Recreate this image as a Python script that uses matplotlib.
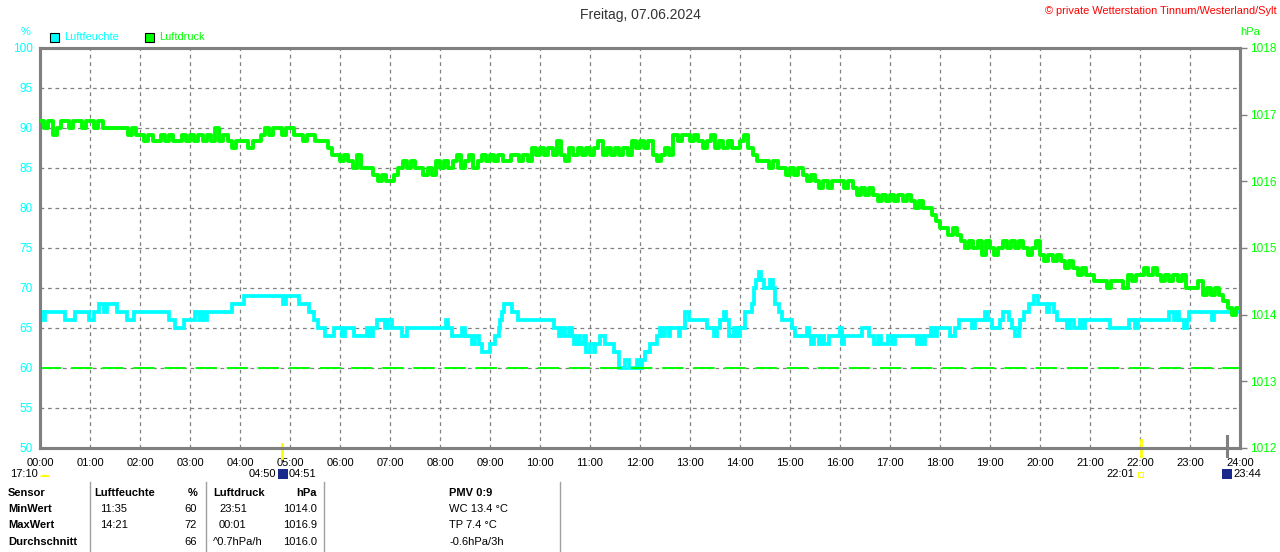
import matplotlib.pyplot as plt
import matplotlib.patches as mpatches
import matplotlib.transforms as mtransforms
import numpy as np

# Luftfeuchte (%), step changes: time in hours, new value
hum_t = [0.0, 0.06, 0.09, 0.5, 0.7, 0.97, 1.07, 1.17, 1.28, 1.33, 1.53, 1.73, 1.87,
         2.57, 2.7, 2.87, 3.1, 3.17, 3.23, 3.27, 3.33, 3.83, 4.07, 4.85, 4.91, 5.17,
         5.37, 5.47, 5.55, 5.7, 5.87, 6.03, 6.1, 6.27, 6.53, 6.6, 6.65, 6.73, 6.9,
         6.95, 7.03, 7.23, 7.33, 8.11, 8.16, 8.23, 8.45, 8.5, 8.63, 8.7, 8.77, 8.83,
         9.0, 9.1, 9.17, 9.2, 9.23, 9.27, 9.43, 9.55, 10.27, 10.37, 10.43, 10.5,
         10.57, 10.63, 10.67, 10.73, 10.8, 10.87, 10.91, 11.0, 11.07, 11.1, 11.19,
         11.3, 11.47, 11.58, 11.7, 11.77, 11.93, 12.0, 12.03, 12.1, 12.2, 12.33,
         12.4, 12.43, 12.5, 12.57, 12.6, 12.77, 12.8, 12.9, 12.97, 13.33, 13.47,
         13.53, 13.6, 13.67, 13.71, 13.77, 13.87, 13.93, 14.0, 14.1, 14.23, 14.27,
         14.32, 14.37, 14.41, 14.47, 14.6, 14.65, 14.69, 14.77, 14.83, 15.03, 15.1,
         15.33, 15.38, 15.41, 15.48, 15.57, 15.63, 15.68, 15.77, 16.0, 16.04, 16.07,
         16.43, 16.57, 16.67, 16.75, 16.83, 16.95, 17.03, 17.1, 17.53, 17.6, 17.65,
         17.7, 17.83, 17.87, 17.93, 18.2, 18.3, 18.37, 18.65, 18.7, 18.9, 18.95,
         19.03, 19.2, 19.25, 19.37, 19.43, 19.5, 19.57, 19.6, 19.67, 19.77, 19.88,
         19.95, 20.13, 20.18, 20.27, 20.33, 20.53, 20.6, 20.67, 20.8, 20.85, 20.9,
         21.4, 21.77, 21.9, 21.95, 22.57, 22.67, 22.73, 22.77, 22.87, 22.93, 22.97,
         23.43, 23.47, 23.97]
hum_v = [67, 66, 67, 66, 67, 66, 67, 68, 67, 68, 67, 66, 67,
         66, 65, 66, 67, 66, 67, 66, 67, 68, 69, 68, 69, 68,
         67, 66, 65, 64, 65, 64, 65, 64, 65, 64, 65, 66, 65,
         66, 65, 64, 65, 66, 65, 64, 65, 64, 63, 64, 63, 62,
         63, 64, 65, 66, 67, 68, 67, 66, 65, 64, 65, 64,
         65, 64, 63, 64, 63, 64, 62, 63, 62, 63, 64,
         63, 62, 60, 61, 60, 61, 60, 61, 62, 63, 64,
         65, 64, 65, 64, 65, 64, 65, 67, 66, 65, 64,
         65, 66, 67, 66, 64, 65, 64, 65, 67, 68, 70,
         71, 72, 71, 70, 71, 70, 68, 67, 66, 65, 64,
         65, 64, 63, 64, 63, 64, 63, 64, 65, 63, 64,
         65, 64, 63, 64, 63, 64, 63, 64, 63, 64, 63,
         64, 65, 64, 65, 64, 65, 66, 65, 66, 67, 66,
         65, 66, 67, 66, 65, 64, 65, 66, 67, 68, 69,
         68, 67, 68, 67, 66, 65, 66, 65, 66, 65, 66,
         65, 66, 65, 66, 67, 66, 67, 66, 65, 66, 67,
         66, 67, 67]

# Luftdruck (hPa), 5-minute values from 00:00, one row per hour
pres_v = [
    1016.9, 1016.8, 1016.9, 1016.7, 1016.8, 1016.9, 1016.9, 1016.8, 1016.9, 1016.9, 1016.8, 1016.9,
    1016.9, 1016.8, 1016.9, 1016.8, 1016.8, 1016.8, 1016.8, 1016.8, 1016.8, 1016.7, 1016.8, 1016.7,
    1016.7, 1016.6, 1016.7, 1016.6, 1016.6, 1016.7, 1016.6, 1016.7, 1016.6, 1016.6, 1016.7, 1016.6,
    1016.7, 1016.6, 1016.7, 1016.6, 1016.7, 1016.6, 1016.8, 1016.6, 1016.7, 1016.6, 1016.5, 1016.6,
    1016.6, 1016.6, 1016.5, 1016.6, 1016.6, 1016.7, 1016.8, 1016.7, 1016.8, 1016.8, 1016.7, 1016.8,
    1016.8, 1016.7, 1016.7, 1016.6, 1016.7, 1016.7, 1016.6, 1016.6, 1016.6, 1016.5, 1016.4, 1016.4,
    1016.3, 1016.4, 1016.3, 1016.2, 1016.4, 1016.2, 1016.2, 1016.2, 1016.1, 1016.0, 1016.1, 1016.0,
    1016.0, 1016.1, 1016.2, 1016.3, 1016.2, 1016.3, 1016.2, 1016.2, 1016.1, 1016.2, 1016.1, 1016.3,
    1016.2, 1016.3, 1016.2, 1016.3, 1016.4, 1016.2, 1016.3, 1016.4, 1016.2, 1016.3, 1016.4, 1016.3,
    1016.4, 1016.3, 1016.4, 1016.3, 1016.3, 1016.4, 1016.4, 1016.3, 1016.4, 1016.3, 1016.5, 1016.4,
    1016.5, 1016.4, 1016.5, 1016.4, 1016.6, 1016.4, 1016.3, 1016.5, 1016.4, 1016.5, 1016.4, 1016.5,
    1016.4, 1016.5, 1016.6, 1016.4, 1016.5, 1016.4, 1016.5, 1016.4, 1016.5, 1016.4, 1016.6, 1016.5,
    1016.6, 1016.5, 1016.6, 1016.4, 1016.3, 1016.4, 1016.5, 1016.4, 1016.7, 1016.6, 1016.7, 1016.7,
    1016.6, 1016.7, 1016.6, 1016.5, 1016.6, 1016.7, 1016.5, 1016.6, 1016.5, 1016.6, 1016.5, 1016.5,
    1016.6, 1016.7, 1016.5, 1016.4, 1016.3, 1016.3, 1016.3, 1016.2, 1016.3, 1016.2, 1016.2, 1016.1,
    1016.2, 1016.1, 1016.2, 1016.1, 1016.0, 1016.1, 1016.0, 1015.9, 1016.0, 1015.9, 1016.0, 1016.0,
    1016.0, 1015.9, 1016.0, 1015.9, 1015.8, 1015.9, 1015.8, 1015.9, 1015.8, 1015.7, 1015.8, 1015.7,
    1015.8, 1015.7, 1015.8, 1015.7, 1015.8, 1015.7, 1015.6, 1015.7, 1015.6, 1015.6, 1015.5, 1015.4,
    1015.3, 1015.3, 1015.2, 1015.3, 1015.2, 1015.1, 1015.0, 1015.1, 1015.0, 1015.1, 1014.9, 1015.1,
    1015.0, 1014.9, 1015.0, 1015.1, 1015.0, 1015.1, 1015.0, 1015.1, 1015.0, 1014.9, 1015.0, 1015.1,
    1014.9, 1014.8, 1014.9, 1014.8, 1014.9, 1014.8, 1014.7, 1014.8, 1014.7, 1014.6, 1014.7, 1014.6,
    1014.6, 1014.5, 1014.5, 1014.5, 1014.4, 1014.5, 1014.5, 1014.5, 1014.4, 1014.6, 1014.5, 1014.6,
    1014.6, 1014.7, 1014.6, 1014.7, 1014.6, 1014.5, 1014.6, 1014.5, 1014.6, 1014.5, 1014.6, 1014.4,
    1014.4, 1014.4, 1014.5, 1014.3, 1014.4, 1014.3, 1014.4, 1014.3, 1014.2, 1014.1, 1014.0, 1014.1,
]
pres_end = 23.97
ref_pressure = 1013.2

hours = list(range(25))
hour_labels = ['%02d:00' % h for h in hours]
hum_ticks = list(range(50, 101, 5))
pres_ticks = list(range(1012, 1019))

sunrise, sunset, moon_t = 4 + 50 / 60, 22 + 1 / 60, 23 + 44 / 60

table_rows = [
    ['Sensor', 'Luftfeuchte', '%', 'Luftdruck', 'hPa', 'PMV 0:9'],
    ['MinWert', '11:35', '60', '23:51', '1014.0', 'WC 13.4 °C'],
    ['MaxWert', '14:21', '72', '00:01', '1016.9', 'TP 7.4 °C'],
    ['Durchschnitt', '', '66', '^0.7hPa/h', '1016.0', '-0.6hPa/3h'],
]

CYAN = '#00ffff'
GREEN = '#00ff00'
GRAY = '#808080'
W, H = 1280, 552
plt.rcParams['font.family'] = ['Liberation Sans', 'DejaVu Sans']


def fx(px):
    return px / W


def fy(py):
    return 1 - py / H


fig = plt.figure(figsize=(W / 100, H / 100), dpi=100, facecolor='white')
ax = fig.add_axes([fx(40), fy(448), 1200 / W, 400 / H])
ax2 = ax.twinx()

# humidity
ax.step(np.append(hum_t, hum_t[-1]), np.append(hum_v, hum_v[-1]), where='post',
        color=CYAN, lw=2.7, solid_joinstyle='miter', zorder=3)
ax.set_xlim(0, 24)
ax.set_ylim(50, 100)
ax.set_xticks(hours)
ax.set_xticklabels(hour_labels, fontsize=8)
ax.set_yticks(hum_ticks)
ax.set_yticklabels([str(v) for v in hum_ticks], fontsize=8.5, color=CYAN)
ax.tick_params(axis='both', length=0)
ax.tick_params(axis='x', pad=7)
ax.tick_params(axis='y', pad=5)
ax.grid(True, color=GRAY, linestyle=(0, (3, 3)), linewidth=0.9)
ax.set_axisbelow(True)

# pressure
pres_t = np.arange(len(pres_v)) / 12
ax2.step(np.append(pres_t, pres_end), np.append(pres_v, pres_v[-1]), where='post',
         color=GREEN, lw=2.8, zorder=3)
ax2.axhline(ref_pressure, color=GREEN, lw=1.4, linestyle=(0, (11, 5)))
ax2.set_ylim(1012, 1018)
ax2.set_yticks(pres_ticks)
ax2.set_yticklabels([str(v) for v in pres_ticks], fontsize=8.5, color=GREEN)
ax2.tick_params(axis='y', length=5, width=1, color=GRAY, pad=2)

for a in (ax, ax2):
    for s in a.spines.values():
        s.set_color(GRAY)
        s.set_linewidth(2.2)

# sun / moon marks under the axis
trans = mtransforms.blended_transform_factory(ax.transData, ax.transAxes)
ax.plot([sunrise, sunrise], [0.01, -0.025], color='#ffff00', lw=2, transform=trans, clip_on=False)
ax.plot([sunset, sunset], [0.02, -0.02], color='#ffff00', lw=2, transform=trans, clip_on=False)
ax.plot([moon_t, moon_t], [0.03, -0.02], color=GRAY, lw=2.2, transform=trans, clip_on=False)

# header texts
fig.text(0.5, fy(15), 'Freitag, 07.06.2024', ha='center', va='center', fontsize=10, color='#333333')
fig.text(fx(1277), fy(11), '© private Wetterstation Tinnum/Westerland/Sylt', ha='right', va='center',
         fontsize=7.9, color='#ff0000')
fig.text(fx(26), fy(32), '%', ha='center', va='center', fontsize=8, color=CYAN)
fig.text(fx(1250), fy(32), 'hPa', ha='center', va='center', fontsize=8, color=GREEN)

# legend boxes
for x0, col, label in [(50, CYAN, 'Luftfeuchte'), (145, GREEN, 'Luftdruck')]:
    fig.add_artist(mpatches.Rectangle((fx(x0), fy(42)), 9 / W, 9 / H, facecolor=col,
                                      edgecolor='black', lw=0.8, transform=fig.transFigure))
    fig.text(fx(x0 + 14), fy(37.5), label, ha='left', va='center', fontsize=7.9, color=col)

# astro labels below the hour labels
fig.text(fx(10), fy(474), '17:10', ha='left', va='center', fontsize=8)
fig.add_artist(mpatches.Wedge((fx(45), fy(477)), 5 / W, 0, 180, facecolor='#ffff00',
                              edgecolor='none', transform=fig.transFigure))
fig.text(fx(276), fy(474), '04:50', ha='right', va='center', fontsize=8)
fig.add_artist(mpatches.Rectangle((fx(278), fy(479)), 10 / W, 10 / H, facecolor='#1a2a8a',
                                  edgecolor='none', transform=fig.transFigure))
fig.text(fx(289), fy(474), '04:51', ha='left', va='center', fontsize=8)
fig.text(fx(1134), fy(474), '22:01', ha='right', va='center', fontsize=8)
fig.add_artist(mpatches.Rectangle((fx(1138), fy(477)), 5 / W, 5 / H, facecolor='none',
                                  edgecolor='#ffff00', lw=0.8, transform=fig.transFigure))
fig.add_artist(mpatches.Rectangle((fx(1222), fy(479)), 10 / W, 10 / H, facecolor='#1a2a8a',
                                  edgecolor='none', transform=fig.transFigure))
fig.text(fx(1233), fy(474), '23:44', ha='left', va='center', fontsize=8)

# summary table
row_y = [493, 509, 525, 542]
col_x = [(8, 'left'), (100, 'left'), (197, 'right'), (219, 'left'), (317, 'right'), (449, 'left')]
for r, (row, py) in enumerate(zip(table_rows, row_y)):
    for c, txt in enumerate(row):
        px, ha = col_x[c]
        if r > 0 and c == 3 and txt.startswith('^'):
            px = 213
        if r == 0 and c in (1, 3):
            px -= 6
        bold = r == 0 or c == 0
        if r > 0 and c == 5:
            bold = False
        fig.text(fx(px), fy(py), txt, ha=ha, va='center', fontsize=8,
                 fontweight='bold' if bold else 'normal', color='black')
for sx in [90, 206, 324, 560]:
    fig.add_artist(plt.Line2D([fx(sx), fx(sx)], [fy(482), fy(552)], color='#a0a0a0', lw=1,
                              transform=fig.transFigure))

fig.savefig('out.png', dpi=100, facecolor='white')
